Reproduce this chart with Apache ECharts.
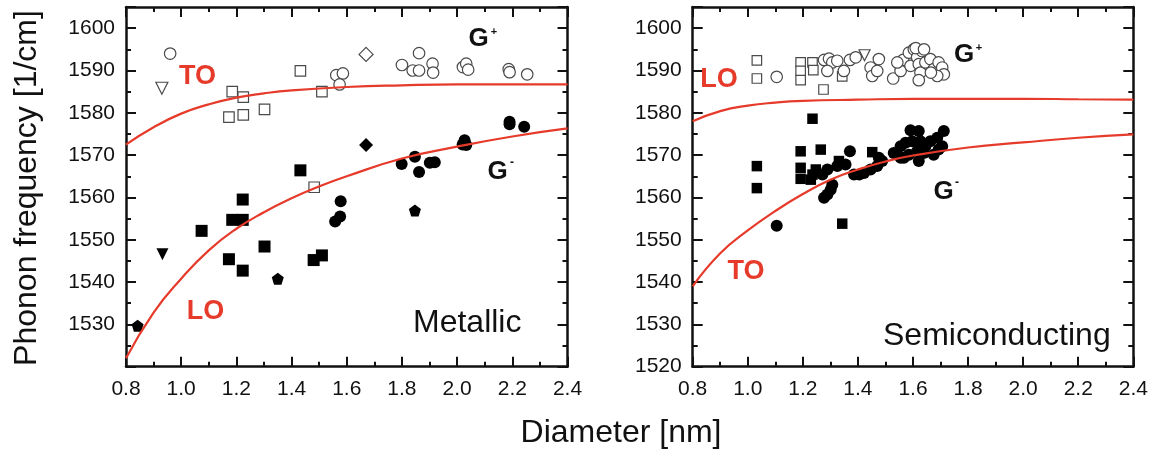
<!DOCTYPE html>
<html>
<head>
<meta charset="utf-8">
<script src="https://cdn.jsdelivr.net/npm/echarts@6/dist/echarts.min.js"></script>
<style>
  html, body { margin: 0; padding: 0; background: #fff; }
  #chart { width: 1168px; height: 454px; }
</style>
</head>
<body>
<div id="chart"></div>
<script>
// ---- tick labels ----
const diameterTicks = ['0.8', '1.0', '1.2', '1.4', '1.6', '1.8', '2.0', '2.2', '2.4'];
const freqTicksMetallic = ['1530', '1540', '1550', '1560', '1570', '1580', '1590', '1600'];
const freqTicksSemi = ['1520', '1530', '1540', '1550', '1560', '1570', '1580', '1590', '1600'];

// ---- Metallic tubes: [diameter nm, frequency 1/cm] ----
const metOpenCircle = [
  [0.96, 1594.0], [1.562, 1588.9], [1.586, 1589.3], [1.574, 1586.7], [1.80, 1591.3],
  [1.862, 1594.1], [1.839, 1590.0], [1.862, 1590.0], [1.911, 1591.6], [1.913, 1589.5],
  [2.021, 1590.8], [2.033, 1591.6], [2.04, 1590.2], [2.187, 1590.3], [2.19, 1589.6],
  [2.254, 1589.1]
];
const metOpenSquare = [
  [1.185, 1585.0], [1.225, 1583.7], [1.173, 1579.0], [1.225, 1579.5], [1.302, 1580.8],
  [1.432, 1589.9], [1.51, 1585.0], [1.482, 1562.4]
];
const metOpenTriangle = [[0.93, 1585.8]];
const metOpenDiamond = [[1.67, 1593.8]];
const metFilledSquare = [
  [1.432, 1566.4], [1.223, 1559.5], [1.185, 1554.7], [1.223, 1554.7], [1.074, 1552.1],
  [1.173, 1545.4], [1.223, 1542.7], [1.302, 1548.4], [1.48, 1545.2], [1.51, 1546.3]
];
const metFilledTriangle = [[0.932, 1546.6]];
const metFilledDiamond = [[1.67, 1572.4]];
const metFilledPentagon = [[1.35, 1540.8], [0.842, 1529.7], [1.847, 1556.9]];
const metFilledCircle = [
  [1.578, 1559.1], [1.576, 1555.5], [1.558, 1554.3], [1.799, 1567.9], [1.847, 1569.6],
  [1.862, 1566.0], [1.901, 1568.2], [1.919, 1568.3], [2.027, 1573.5], [2.033, 1572.4],
  [2.02, 1572.5], [2.19, 1577.9], [2.19, 1577.3], [2.243, 1576.7]
];
// fitted branches, metallic
const metTO = [
  [0.8, 1572.5], [0.9, 1576.6], [1.0, 1579.8], [1.1, 1582.0], [1.2, 1583.6], [1.3, 1584.6],
  [1.4, 1585.3], [1.6, 1586.1], [1.8, 1586.5], [2.0, 1586.7], [2.2, 1586.7], [2.4, 1586.7]
];
const metLO = [
  [0.8, 1522.0], [0.9, 1532.8], [1.0, 1540.8], [1.1, 1547.5], [1.2, 1552.6], [1.3, 1556.5],
  [1.4, 1559.8], [1.5, 1562.6], [1.6, 1565.0], [1.8, 1569.2], [2.0, 1572.0], [2.2, 1574.4],
  [2.4, 1576.3]
];

// ---- Semiconducting tubes ----
const semOpenSquare = [
  [1.033, 1592.4], [1.033, 1588.1], [1.192, 1591.9], [1.192, 1589.9], [1.192, 1587.7],
  [1.235, 1591.9], [1.238, 1590.1], [1.275, 1585.5], [1.343, 1588.6]
];
const semOpenTriangle = [[1.424, 1593.6]];
const semOpenCircle = [
  [1.105, 1588.5], [1.277, 1592.5], [1.295, 1592.8], [1.307, 1591.9], [1.289, 1589.9],
  [1.325, 1592.3], [1.349, 1589.9], [1.371, 1592.5], [1.392, 1593.1], [1.446, 1590.7],
  [1.452, 1588.7], [1.476, 1592.7], [1.470, 1589.9], [1.528, 1588.1], [1.555, 1589.9],
  [1.564, 1592.5], [1.585, 1594.2], [1.591, 1591.1], [1.603, 1595.0], [1.615, 1593.1],
  [1.621, 1591.5], [1.627, 1589.5], [1.621, 1587.7], [1.633, 1594.6], [1.645, 1591.9],
  [1.663, 1592.7], [1.675, 1590.3], [1.693, 1591.9], [1.706, 1590.7], [1.712, 1589.1],
  [1.688, 1588.7], [1.61, 1595.3], [1.64, 1595.0], [1.543, 1591.9], [1.665, 1589.5]
];
const semFilledSquare = [
  [1.033, 1567.4], [1.033, 1562.2], [1.235, 1578.6], [1.192, 1570.9], [1.192, 1567.0],
  [1.192, 1564.4], [1.265, 1571.3], [1.235, 1565.4], [1.247, 1566.6], [1.229, 1564.2],
  [1.331, 1568.6], [1.343, 1553.8], [1.452, 1570.7]
];
const semFilledCircle = [
  [1.105, 1553.3], [1.277, 1559.9], [1.289, 1560.7], [1.301, 1561.8], [1.307, 1563.0],
  [1.289, 1566.6], [1.271, 1565.4], [1.371, 1570.9], [1.355, 1567.8], [1.386, 1565.4],
  [1.422, 1565.8], [1.446, 1566.6], [1.470, 1567.4], [1.476, 1569.4], [1.488, 1568.6],
  [1.530, 1570.5], [1.555, 1569.4], [1.555, 1572.1], [1.573, 1572.9], [1.591, 1575.9],
  [1.621, 1575.7], [1.597, 1573.3], [1.627, 1573.3], [1.621, 1568.6], [1.639, 1570.5],
  [1.615, 1570.9], [1.645, 1572.1], [1.663, 1573.3], [1.688, 1574.1], [1.712, 1575.7],
  [1.706, 1572.1], [1.693, 1571.3], [1.675, 1570.1], [1.567, 1569.4], [1.585, 1570.1],
  [1.325, 1567.4], [1.405, 1565.4]
];
// fitted branches, semiconducting
const semLO = [
  [0.8, 1578.0], [0.9, 1580.4], [1.0, 1581.7], [1.1, 1582.4], [1.2, 1582.8], [1.4, 1583.1],
  [1.6, 1583.3], [1.8, 1583.3], [2.0, 1583.3], [2.2, 1583.2], [2.4, 1583.1]
];
const semTO = [
  [0.8, 1539.0], [0.9, 1546.8], [1.0, 1552.2], [1.1, 1556.8], [1.2, 1560.8], [1.3, 1564.2],
  [1.4, 1566.6], [1.5, 1568.5], [1.6, 1569.9], [1.8, 1571.8], [2.0, 1573.0], [2.2, 1574.1],
  [2.4, 1574.9]
];

// ---- styling ----
const FONT = "'Liberation Sans', Arial, Helvetica, sans-serif";
const INK = '#111';
const RED = '#e63a2a';
const OPEN_EDGE = '#4a4a4a';
const PENTAGON = 'path://M50,0 L97.6,34.5 L79.4,90.5 L20.6,90.5 L2.4,34.5 Z';

const grids = [
  { left: 126, top: 7, width: 441.5, height: 359.7 },
  { left: 692.7, top: 7, width: 440.6, height: 359.7 }
];

function xAxes(gi) {
  const base = {
    gridIndex: gi, type: 'value', min: 0.8, max: 2.4, interval: 0.2,
    axisLine: { show: true, onZero: false, lineStyle: { color: INK, width: 2.5 } },
    axisTick: { show: true, inside: true, length: 10, lineStyle: { color: INK, width: 2 } },
    minorTick: { show: true, splitNumber: 2, length: 5, lineStyle: { color: INK, width: 2 } },
    splitLine: { show: false }, minorSplitLine: { show: false }
  };
  return [
    Object.assign({}, base, {
      position: 'bottom',
      axisLabel: {
        show: true, margin: 12, color: INK, fontFamily: FONT, fontSize: 21,
        formatter: v => { const s = v.toFixed(1); return diameterTicks.includes(s) ? s : ''; }
      }
    }),
    Object.assign({}, base, { position: 'top', axisLabel: { show: false } })
  ];
}

function yAxes(gi, labels) {
  const common = {
    gridIndex: gi, type: 'value', min: 1520, max: 1605,
    splitLine: { show: false }
  };
  const line = { show: true, onZero: false, lineStyle: { color: INK, width: 2.5 } };
  const major = Object.assign({}, common, {
    interval: 10, axisLine: line,
    axisTick: { show: true, inside: true, length: 10, lineStyle: { color: INK, width: 2 } }
  });
  const minor = Object.assign({}, common, {
    interval: 5, axisLine: { show: false }, axisLabel: { show: false },
    axisTick: { show: true, inside: true, length: 5, lineStyle: { color: INK, width: 2 } }
  });
  return [
    Object.assign({}, major, {
      position: 'left',
      axisLabel: {
        show: true, margin: 11, color: INK, fontFamily: FONT, fontSize: 21,
        formatter: v => { const s = String(Math.round(v)); return (Math.abs(v - Math.round(v)) < 1e-6 && labels.includes(s)) ? s : ''; }
      }
    }),
    Object.assign({}, minor, { position: 'left' }),
    Object.assign({}, major, { position: 'right', axisLabel: { show: false } }),
    Object.assign({}, minor, { position: 'right' })
  ];
}

function scatter(data, gi, symbol, size, filled, rotate) {
  return {
    type: 'scatter', data: data, xAxisIndex: gi * 2, yAxisIndex: gi * 4,
    symbol: symbol, symbolSize: size, symbolRotate: rotate || 0,
    itemStyle: filled
      ? { color: '#000', borderWidth: 0, opacity: 1 }
      : { color: '#fff', borderColor: OPEN_EDGE, borderWidth: 1.2, opacity: 1 },
    emphasis: { disabled: true }, silent: true, z: filled ? 3 : 2
  };
}

function curve(data, gi) {
  return {
    type: 'line', data: data, xAxisIndex: gi * 2, yAxisIndex: gi * 4,
    smooth: true, showSymbol: false, symbol: 'none',
    lineStyle: { color: RED, width: 2.2 }, emphasis: { disabled: true }, silent: true, z: 4
  };
}

function text(str, x, y, size, opts) {
  opts = opts || {};
  return {
    type: 'text', x: x, y: y, rotation: opts.rotation || 0, z: 10, silent: true,
    style: {
      text: str, fill: opts.color || INK,
      font: (opts.bold ? 'bold ' : '') + size + 'px ' + FONT,
      align: opts.align || 'center', verticalAlign: 'middle',
      textAlign: opts.align || 'center', textVerticalAlign: 'middle'
    }
  };
}

const option = {
  animation: false,
  backgroundColor: '#fff',
  grid: grids,
  xAxis: [].concat(xAxes(0), xAxes(1)),
  yAxis: [].concat(yAxes(0, freqTicksMetallic), yAxes(1, freqTicksSemi)),
  series: [
    curve(metTO, 0), curve(metLO, 0),
    scatter(metOpenCircle, 0, 'circle', 11.5, false),
    scatter(metOpenSquare, 0, 'rect', 10.5, false),
    scatter(metOpenTriangle, 0, 'triangle', 12, false, 180),
    scatter(metOpenDiamond, 0, 'diamond', 14, false),
    scatter(metFilledSquare, 0, 'rect', 12, true),
    scatter(metFilledTriangle, 0, 'triangle', 12, true, 180),
    scatter(metFilledDiamond, 0, 'diamond', 14, true),
    scatter(metFilledPentagon, 0, PENTAGON, 12, true),
    scatter(metFilledCircle, 0, 'circle', 12, true),

    curve(semLO, 1), curve(semTO, 1),
    scatter(semOpenSquare, 1, 'rect', 9.5, false),
    scatter(semOpenTriangle, 1, 'triangle', 11, false, 180),
    scatter(semOpenCircle, 1, 'circle', 11.5, false),
    scatter(semFilledSquare, 1, 'rect', 10.5, true),
    scatter(semFilledCircle, 1, 'circle', 12, true)
  ],
  graphic: [
    // axis titles
    text('Phonon frequency [1/cm]', 27, 188, 32, { rotation: Math.PI / 2 }),
    text('Diameter [nm]', 621, 433, 32),
    // metallic panel
    text('TO', 197.5, 77, 27, { bold: true, color: RED }),
    text('LO', 205.5, 312, 27, { bold: true, color: RED }),
    text('G', 478.5, 39, 26, { bold: true }),
    text('+', 494, 32, 11, { bold: true }),
    text('G', 497.5, 172, 26, { bold: true }),
    text('-', 512, 163, 12, { bold: true }),
    text('Metallic', 413, 323, 32, { align: 'left' }),
    // semiconducting panel
    text('LO', 719, 80, 27, { bold: true, color: RED }),
    text('TO', 746, 272, 27, { bold: true, color: RED }),
    text('G', 964, 55, 26, { bold: true }),
    text('+', 979, 48, 11, { bold: true }),
    text('G', 943.5, 192, 26, { bold: true }),
    text('-', 957, 183, 12, { bold: true }),
    text('Semiconducting', 883, 336, 32, { align: 'left' })
  ]
};

const chart = echarts.init(document.getElementById('chart'), null, { renderer: 'canvas' });
chart.setOption(option);
</script>
</body>
</html>
